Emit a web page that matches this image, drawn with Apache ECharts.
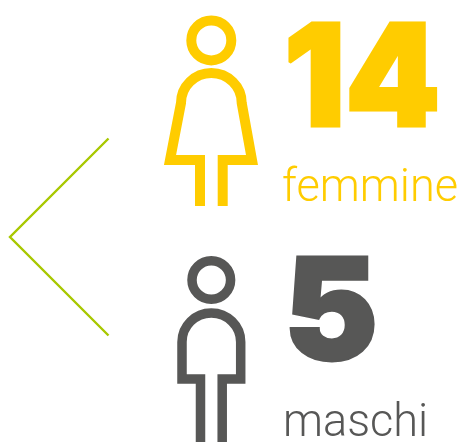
<!DOCTYPE html>
<html>
<head>
<meta charset="utf-8">
<style>
  html, body { margin: 0; padding: 0; background: #fff; }
  #chart { width: 460px; height: 442px; }
</style>
</head>
<body>
<div id="chart"></div>
<script src="https://cdn.jsdelivr.net/npm/echarts@6/dist/echarts.min.js"></script>
<script>
const labels = ['femmine', 'maschi']
const counts = [14, 5]

const yellow = '#ffcc00'
const grey = '#575756'
const green = '#a8c800'

const femaleBody = 'M200 206V160H170L181 103C181 86.4 194.7 73 211.3 73C228 73 241.7 86.4 241.7 103L252 160H222.7V206'
const maleBody = 'M200.5 446V379H182V342C182 326 195 313 211.3 313C227.6 313 240.7 326 240.7 342V379H222.2V446'

// graphic has no plain path element, so the two bodies go through a custom series
const bodies = [
  { path: femaleBody, x: 170, y: 73, width: 82, height: 133, color: yellow, lineWidth: 10 },
  { path: maleBody, x: 182, y: 313, width: 58.7, height: 133, color: grey, lineWidth: 9.5 }
]

function renderBody(params) {
  const b = bodies[params.dataIndex]
  return {
    type: 'path',
    shape: { pathData: b.path, layout: 'cover', x: b.x, y: b.y, width: b.width, height: b.height },
    style: { fill: 'none', stroke: b.color, lineWidth: b.lineWidth, lineJoin: 'miter', lineCap: 'butt' }
  }
}

function head(cx, cy, r, color, lineWidth) {
  return {
    type: 'circle',
    shape: { cx: cx, cy: cy, r: r },
    style: { fill: 'none', stroke: color, lineWidth: lineWidth }
  }
}

function bigNumber(value, x, y, color, scaleX) {
  return {
    type: 'text',
    x: x,
    y: y,
    scaleX: scaleX,
    style: {
      text: String(value),
      font: '900 141px Inter',
      fill: color,
      stroke: color,
      lineWidth: 3,
      align: 'left',
      verticalAlign: 'top'
    }
  }
}

function caption(text, x, y, color) {
  return {
    type: 'text',
    x: x,
    y: y,
    scaleX: 0.96,
    style: {
      text: text,
      font: '300 47px Roboto',
      fill: color,
      align: 'left',
      verticalAlign: 'top'
    }
  }
}

const chart = echarts.init(document.getElementById('chart'), null, { renderer: 'canvas' })
chart.setOption({
  animation: false,
  series: [{
    type: 'custom',
    coordinateSystem: 'none',
    silent: true,
    clip: false,
    data: counts,
    renderItem: renderBody
  }],
  graphic: [
    {
      type: 'polyline',
      shape: { points: [[108.5, 138.5], [10, 237], [108.5, 335.5]] },
      style: { fill: 'none', stroke: green, lineWidth: 2.4 }
    },
    head(211.3, 40.4, 20, yellow, 10),
    bigNumber(counts[0], 284, 13, yellow, 0.96),
    caption(labels[0], 282, 166, yellow),
    head(211.3, 280, 19.3, grey, 9.5),
    bigNumber(counts[1], 284, 247, grey, 1),
    caption(labels[1], 283, 401, grey)
  ]
})
</script>
</body>
</html>
